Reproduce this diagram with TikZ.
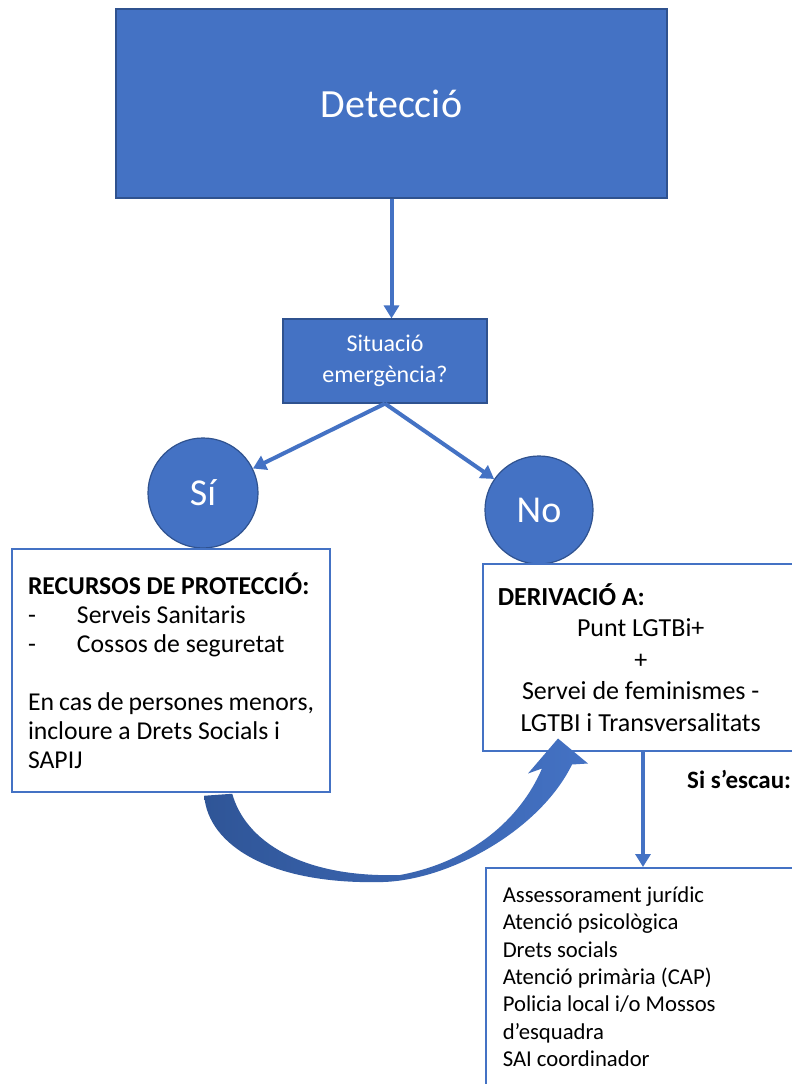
\documentclass[tikz,border=0pt]{standalone}
\usepackage{fontspec}
\setmainfont{Carlito}
\usetikzlibrary{arrows.meta,positioning,calc}
\definecolor{boxblue}{HTML}{4472C4}
\definecolor{edgeblue}{HTML}{2F528F}
\definecolor{darkblue}{HTML}{2F5597}

\begin{document}
\begin{tikzpicture}[x=1pt,y=-1pt,
  bluebox/.style={draw=edgeblue, line width=1.2pt, fill=boxblue, text=white, align=flush center},
  whitebox/.style={draw=boxblue, line width=1.5pt, fill=white, text=black},
  answer/.style={circle, draw=edgeblue, line width=1.2pt, fill=boxblue, text=white,
    minimum size=110pt, inner sep=0pt, font=\fontsize{38}{44}\selectfont},
  link/.style={draw=boxblue, line width=4pt, -{Triangle[width=15pt,length=13pt]}}]

  \clip (0,0) rectangle (792,1084);
  \fill[white] (0,0) rectangle (792,1084);

  \node[bluebox, minimum width=551pt, minimum height=189pt, font=\fontsize{40}{48}\selectfont] (det) at (391.5,103.5) {Detecció};
  \node[bluebox, minimum width=204pt, minimum height=84pt, font=\fontsize{24}{31}\selectfont] (sit) at (385,361) {Situació\\emergència?};
  \node[answer] (si) at (203,493) {Sí};
  \node[answer, minimum size=108pt] (no) at (539,510) {No};

  \node[whitebox, minimum width=318pt, minimum height=243pt, text width=286pt, inner xsep=16pt, align=flush left,
    font=\fontsize{25.7}{29}\selectfont] (prot) at (171,670.5)
    {{\bfseries RECURSOS DE PROTECCIÓ:}\\
     \makebox[49pt][l]{-}Serveis Sanitaris\\
     \makebox[49pt][l]{-}Cossos de seguretat\\[29pt]
     En cas de persones menors,\\
     incloure a Drets Socials i\\
     SAPIJ};

  \node[whitebox, anchor=north west, minimum height=187pt, text width=286pt, inner xsep=15pt, align=flush center,
    font=\fontsize{26}{31.5}\selectfont] (der) at (482,563)
    {\makebox[286pt][l]{\bfseries DERIVACIÓ A:}\\
     Punt LGTBi+\\
     +\\
     Servei de feminismes -\\
     LGTBI i Transversalitats};

  \node[whitebox, anchor=north west, text width=300pt, inner xsep=17pt, inner ysep=19pt, align=flush left,
    font=\fontsize{22.7}{27.3}\selectfont] (res) at (485,867)
    {Assessorament jurídic\\
     Atenció psicològica\\
     Drets socials\\
     Atenció primària (CAP)\\
     Policia local i/o Mossos\\
     d’esquadra\\
     SAI coordinador};

  \node[anchor=base west, inner sep=0pt, font=\bfseries\fontsize{25}{29}\selectfont] (escau) at (687,788) {Si s’escau:};

  % arrows between the steps
  \draw[link] (det.south) -- (det.south |- sit.north);
  \draw[link] (sit.south) -- (si);
  \draw[link] (sit.south) -- (no);
  \coordinate (drop) at ($(der.south west)+(161,0)$);
  \draw[link] (drop) -- (drop |- res.north);

  % curved arrow from protection to referral
  \coordinate (bendout) at ($(prot.south west)+(193,3)$);
  \coordinate (bendin)  at ($(prot.south west)+(221,1)$);
  \coordinate (shaftL)  at ($(der.south west)+(60,17)$);
  \coordinate (shaftR)  at ($(der.south west)+(90,13)$);
  \coordinate (wingL)   at ($(der.south west)+(46,22)$);
  \coordinate (wingR)   at ($(der.south west)+(106,12)$);
  \coordinate (tip)     at ($(der.south west)+(76,-13)$);
  \shade[left color=darkblue, right color=boxblue]
    (bendout) .. controls (208,845) and (270,885) .. (383,882)
    .. controls (450,880) and (540,830) .. (shaftR)
    -- (wingR) -- (tip) -- (wingL) -- (shaftL)
    .. controls (520,820) and (470,862) .. (400,875)
    .. controls (300,878) and (245,840) .. (bendin) -- cycle;

\end{tikzpicture}
\end{document}
